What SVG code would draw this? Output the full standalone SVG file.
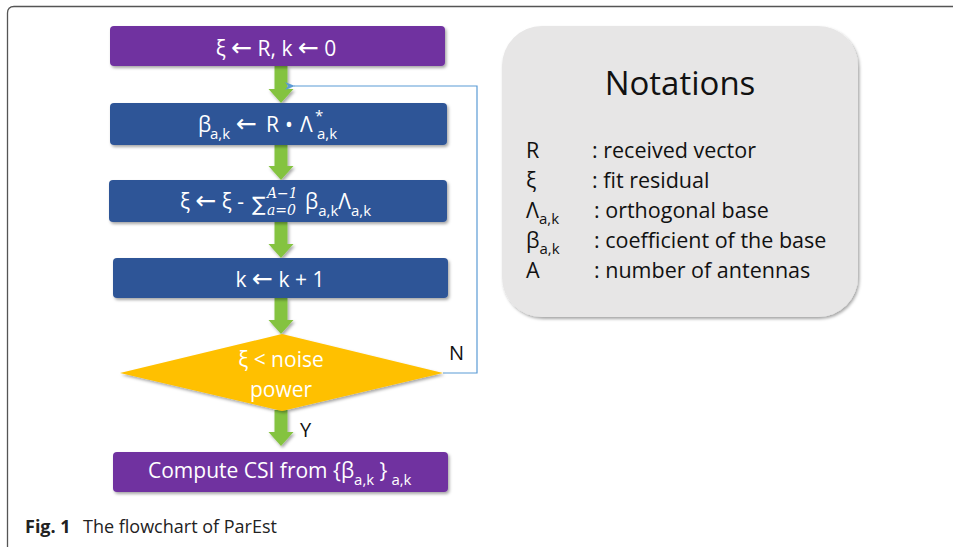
<svg xmlns="http://www.w3.org/2000/svg" width="953" height="550" viewBox="0 0 953 550">
<defs>
<filter id="sh" x="-10%" y="-20%" width="130%" height="160%">
<feDropShadow dx="1.5" dy="2" stdDeviation="1.6" flood-color="#000" flood-opacity="0.35"/>
</filter>
<marker id="ah" markerWidth="10" markerHeight="8" refX="1" refY="4" orient="auto" markerUnits="userSpaceOnUse">
<path d="M10,0 L0,4 L10,8 L7,4 Z" fill="#5B9BD5"/>
</marker>
</defs>
<style>
.t{font-family:"Open Sans","Noto Sans",sans-serif;fill:#fff;font-size:21px}
.s{font-size:15px}
.a{font-family:"DejaVu Sans",sans-serif;font-size:25px}
.k{font-family:"Open Sans","Noto Sans",sans-serif;fill:#111;font-size:21.5px}
.lim{font-family:"DejaVu Serif",serif;font-style:italic;fill:#fff;font-size:14px}
.purple{fill:#7030A0}
.blue{fill:#2F5597}
.ga{fill:#84C341}
.cap{font-family:"Open Sans","Noto Sans",sans-serif;fill:#222;font-size:18px}
</style>
<rect width="953" height="550" fill="#fff"/>
<path d="M960,6.5 H14 Q7.5,6.5 7.5,13 V547" fill="none" stroke="#555" stroke-width="1.3"/>

<g id="connectors">
<path class="ga" d="M274.5,66 H287.5 V89 H293.5 L281,103 L268.5,89 H274.5 Z" filter="url(#sh)"/>
<path class="ga" d="M274.5,145 H287.5 V166 H293.5 L281,180 L268.5,166 H274.5 Z" filter="url(#sh)"/>
<path class="ga" d="M274.5,222 H287.5 V244 H293.5 L281,258 L268.5,244 H274.5 Z" filter="url(#sh)"/>
<path class="ga" d="M274.5,298 H287.5 V320 H293.5 L281,334 L268.5,320 H274.5 Z" filter="url(#sh)"/>
<path class="ga" d="M274.5,410 H287.5 V432 H293.5 L281,446 L268.5,432 H274.5 Z" filter="url(#sh)"/>
<path d="M443,373 H477 V86 H294" fill="none" stroke="#5B9BD5" stroke-width="1.2" marker-end="url(#ah)"/>
<text x="449" y="360" class="k" style="font-size:20px">N</text>
<text x="300" y="437" class="k" style="font-size:20px">Y</text>
</g>

<g id="init">
<rect x="110" y="26" width="335" height="40" rx="4" class="purple" filter="url(#sh)"/>
<text x="276" y="56" class="t" text-anchor="middle">ξ <tspan class="a">←</tspan> R, k <tspan class="a">←</tspan> 0</text>
</g>

<g id="coef">
<rect x="110" y="103" width="337" height="42" rx="4" class="blue" filter="url(#sh)"/>
<text y="132" class="t"><tspan x="198">β</tspan><tspan x="210" dy="7" class="s">a,k</tspan><tspan x="236" dy="-7" class="a">←</tspan><tspan x="266">R</tspan><tspan x="285">•</tspan><tspan x="300">Λ</tspan><tspan x="315" dy="-11" class="s">*</tspan><tspan x="317" dy="18" class="s">a,k</tspan></text>
</g>

<g id="residual">
<rect x="109" y="180" width="338" height="42" rx="4" class="blue" filter="url(#sh)"/>
<text x="180" y="209" class="t">ξ <tspan class="a">←</tspan> ξ -</text>
<text x="252" y="211" class="t" style="font-family:'DejaVu Sans',sans-serif;font-size:20px">∑</text>
<text x="267" y="198" class="lim">A−1</text>
<text x="267" y="215" class="lim">a=0</text>
<text x="305" y="209" class="t">β<tspan class="s" dy="7">a,k</tspan><tspan dy="-7">Λ</tspan><tspan class="s" dy="7">a,k</tspan></text>
</g>

<g id="incr">
<rect x="113" y="258" width="335" height="40" rx="4" class="blue" filter="url(#sh)"/>
<text x="280" y="287" class="t" text-anchor="middle">k <tspan class="a">←</tspan> k + 1</text>
</g>

<g id="check">
<polygon points="120,373 282,334 443,373 282,411" fill="#FFC000" filter="url(#sh)"/>
<text x="281" y="367" class="t" text-anchor="middle">ξ &lt; noise</text>
<text x="281" y="397" class="t" text-anchor="middle">power</text>
</g>

<g id="compute">
<rect x="113" y="452" width="335" height="40" rx="4" class="purple" filter="url(#sh)"/>
<text x="148" y="478" class="t">Compute CSI from {β<tspan class="s" dy="7">a,k</tspan><tspan dy="-7"> }</tspan><tspan class="s" dy="7"> a,k</tspan></text>
</g>

<g id="notations">
<rect x="502" y="26" width="356" height="291" rx="40" fill="#E7E6E6" filter="url(#sh)"/>
<text x="680" y="95" class="k" style="font-size:33px" text-anchor="middle">Notations</text>
<text x="526" y="158" class="k">R</text>
<text x="592" y="158" class="k">: received vector</text>
<text x="526" y="188" class="k">ξ</text>
<text x="592" y="188" class="k">: fit residual</text>
<text x="526" y="218" class="k">Λ<tspan style="font-size:15px" dy="6">a,k</tspan></text>
<text x="594" y="218" class="k">: orthogonal base</text>
<text x="526" y="248" class="k">β<tspan style="font-size:15px" dy="6">a,k</tspan></text>
<text x="594" y="248" class="k">: coefficient of the base</text>
<text x="526" y="278" class="k">A</text>
<text x="594" y="278" class="k">: number of antennas</text>
</g>

<text x="25" y="533" class="cap"><tspan font-weight="bold">Fig. 1</tspan><tspan x="83">The flowchart of ParEst</tspan></text>
</svg>
